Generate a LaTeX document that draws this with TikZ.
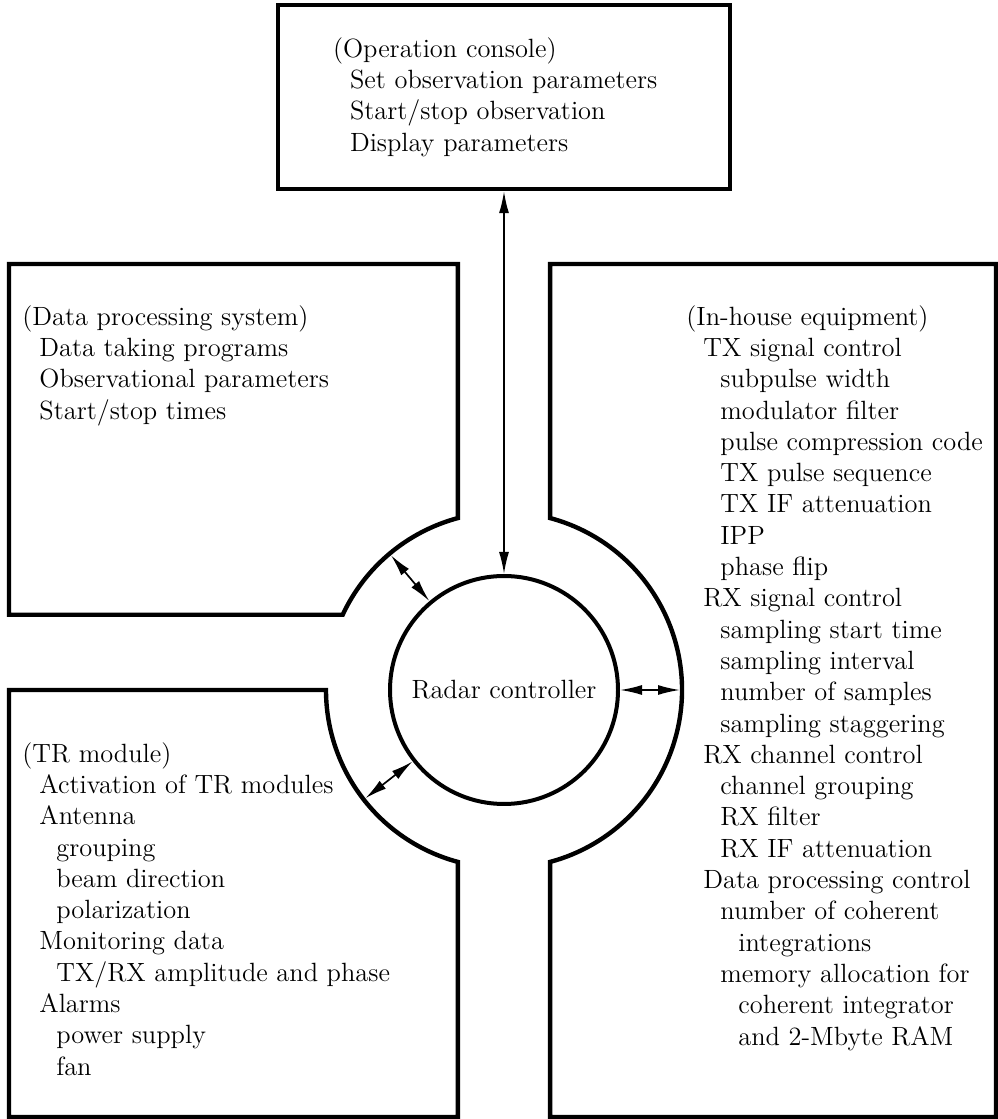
\documentclass[tikz,border=0pt]{standalone}
\usepackage{tikz}
\usetikzlibrary{arrows.meta,calc}
\newcommand{\ia}{\hspace*{8.5pt}}
\newcommand{\ib}{\hspace*{17pt}}
\newcommand{\ic}{\hspace*{26pt}}

\begin{document}
\begin{tikzpicture}[x=0.5pt,y=0.5pt,font=\fontsize{13.2pt}{15.65pt}\selectfont,
  panel/.style={line width=2.2pt,line join=miter},
  listing/.style={anchor=north west,align=left,inner sep=0pt},
  link/.style={{Latex[length=11pt,width=5pt]}-{Latex[length=11pt,width=5pt]},line width=0.85pt}]
\useasboundingbox (0,0) rectangle (997,1119);
\coordinate (c) at (504,429);
% operation console
\node[panel,draw,minimum width=226pt,minimum height=92pt,text width=171pt,inner xsep=27.5pt,align=left]
  (console) at (504,1022) {(Operation console)\\\ia Set observation parameters\\\ia Start/stop observation\\\ia Display parameters};
% radar controller
\node[circle,draw,line width=2pt,minimum size=114pt,inner sep=0pt] (rc) at (c) {Radar controller};
% outlines of the three other units, cut round the ring
\draw[panel] (9,855) -| ($(c)+(105:178)$) arc[start angle=105,end angle=155,radius=178] -| (9,855) -- cycle;
\draw[panel] (996,855) -| ($(c)+(75:178)$) arc[start angle=75,end angle=-75,radius=178] |- (996,2) -- cycle;
\draw[panel] (9,429) -- ($(c)+(180:178)$) arc[start angle=180,end angle=255,radius=178] |- (9,2) -- cycle;
% data processing system
\node[listing] (dps) at (22,814) {(Data processing system)\\\ia Data taking programs\\\ia Observational parameters\\\ia Start/stop times};
% in-house equipment
\node[listing] (ihe) at (686,814) {(In-house equipment)\\\ia TX signal control\\\ib subpulse width\\\ib modulator filter\\\ib pulse compression code\\\ib TX pulse sequence\\\ib TX IF attenuation\\\ib IPP\\\ib phase flip\\\ia RX signal control\\\ib sampling start time\\\ib sampling interval\\\ib number of samples\\\ib sampling staggering\\\ia RX channel control\\\ib channel grouping\\\ib RX filter\\\ib RX IF attenuation\\\ia Data processing control\\\ib number of coherent\\\ic integrations\\\ib memory allocation for\\\ic coherent integrator\\\ic and 2-Mbyte RAM};
% TR module
\node[listing] (trm) at (22,377) {(TR module)\\\ia Activation of TR modules\\\ia Antenna\\\ib grouping\\\ib beam direction\\\ib polarization\\\ia Monitoring data\\\ib TX/RX amplitude and phase\\\ia Alarms\\\ib power supply\\\ib fan};
% ports on the ring
\coordinate (dps-port) at ($(c)+(130:176)$);
\coordinate (ihe-port) at ($(c)+(0:176)$);
\coordinate (trm-port) at ($(c)+(218:176)$);
\draw[link] (console.south) -- (rc.north);
\draw[link] (dps-port) -- (rc.130);
\draw[link] (rc.east) -- (ihe-port);
\draw[link] (trm-port) -- (rc.218);
\end{tikzpicture}
\end{document}
